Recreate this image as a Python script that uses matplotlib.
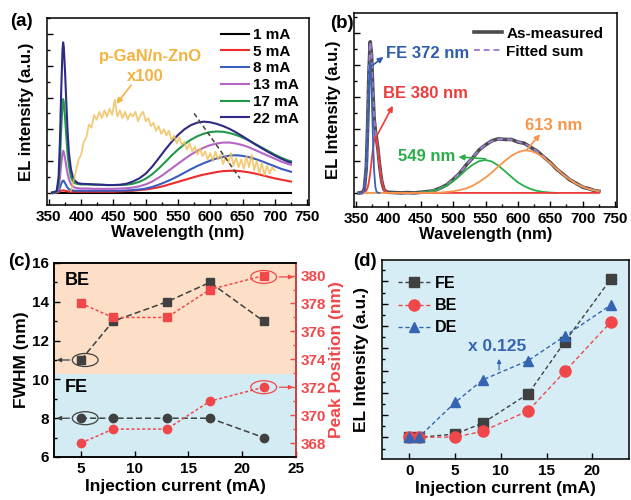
import numpy as np
import matplotlib
matplotlib.use("Agg")
import matplotlib.pyplot as plt
from matplotlib.patches import Ellipse
from matplotlib.ticker import MultipleLocator, NullFormatter

plt.rcParams['font.family'] = ['Liberation Sans', 'DejaVu Sans']
plt.rcParams['font.weight'] = 'bold'
plt.rcParams['axes.labelweight'] = 'bold'
plt.rcParams['axes.linewidth'] = 1.1

# ---------------- (a) EL spectra at different currents ----------------
wl_a = [355, 362, 365, 367, 369, 371, 372, 373, 375, 377, 379, 381, 384, 387, 390, 395,
        400, 410, 420, 430, 440, 450, 460, 470, 480, 490,
        500, 510, 520, 530, 540, 550, 560, 570, 580, 590,
        600, 610, 620, 630, 640, 650, 660, 670, 680, 690,
        700, 710, 720, 725]
wl_1mA = [355, 725]
el_1mA = [0, 0]
el_5mA = [0, 0, 0.02, 0.04, 0.06, 0.07, 0.07, 0.07, 0.06, 0.05, 0.04, 0.03, 0.03, 0.03, 0.03, 0.03,
          0.03, 0.03, 0.03, 0.03, 0.03, 0.03, 0.04, 0.05, 0.06, 0.08,
          0.10, 0.13, 0.17, 0.22, 0.28, 0.34, 0.40, 0.46, 0.52, 0.57,
          0.61, 0.65, 0.68, 0.69, 0.69, 0.67, 0.64, 0.60, 0.55, 0.50,
          0.45, 0.41, 0.37, 0.35]
el_8mA = [0, 0.01, 0.05, 0.15, 0.28, 0.36, 0.38, 0.37, 0.30, 0.22, 0.15, 0.11, 0.08, 0.07, 0.06, 0.06,
          0.06, 0.06, 0.06, 0.06, 0.06, 0.06, 0.06, 0.07, 0.08, 0.10,
          0.13, 0.18, 0.25, 0.33, 0.42, 0.52, 0.63, 0.74, 0.84, 0.93,
          1.01, 1.08, 1.13, 1.17, 1.18, 1.16, 1.12, 1.06, 0.99, 0.91,
          0.83, 0.75, 0.69, 0.66]
el_13mA = [0, 0.02, 0.12, 0.45, 0.90, 1.25, 1.32, 1.28, 1.08, 0.82, 0.58, 0.42, 0.27, 0.20, 0.16, 0.14,
           0.13, 0.13, 0.12, 0.12, 0.12, 0.12, 0.13, 0.14, 0.16, 0.20,
           0.26, 0.35, 0.47, 0.61, 0.76, 0.91, 1.06, 1.20, 1.32, 1.42,
           1.50, 1.55, 1.58, 1.58, 1.55, 1.50, 1.43, 1.34, 1.25, 1.16,
           1.07, 0.98, 0.91, 0.88]
el_17mA = [0, 0.03, 0.30, 1.00, 2.00, 2.80, 2.95, 2.85, 2.35, 1.75, 1.20, 0.85, 0.50, 0.36, 0.30, 0.27,
           0.26, 0.26, 0.25, 0.25, 0.24, 0.24, 0.24, 0.25, 0.28, 0.34,
           0.44, 0.58, 0.76, 0.96, 1.17, 1.36, 1.53, 1.67, 1.78, 1.86,
           1.91, 1.93, 1.92, 1.88, 1.82, 1.74, 1.64, 1.53, 1.42, 1.31,
           1.20, 1.10, 1.02, 0.99]
el_22mA = [0, 0.05, 0.50, 1.60, 3.20, 4.50, 4.74, 4.60, 3.80, 2.80, 1.90, 1.25, 0.75, 0.50, 0.38, 0.30,
           0.28, 0.27, 0.26, 0.25, 0.24, 0.24, 0.25, 0.28, 0.35, 0.45,
           0.60, 0.82, 1.08, 1.35, 1.60, 1.82, 2.00, 2.13, 2.21, 2.24,
           2.22, 2.17, 2.10, 2.01, 1.90, 1.78, 1.65, 1.52, 1.40, 1.28,
           1.17, 1.07, 0.98, 0.95]
labels_a = ['1 mA', '5 mA', '8 mA', '13 mA', '17 mA', '22 mA']
colors_a = ['#000000', '#EE2A2A', '#3A5DBF', '#B566C4', '#1E9A48', '#2E2A85']

# p-GaN/n-ZnO reference (x100)
wl_gan = np.arange(384, 701, 4)
el_gan = [0.05, 0.35, 0.70, 1.05, 1.20, 1.60, 1.75, 2.15, 2.05, 2.45,
          2.30, 2.55, 2.35, 2.60, 2.40, 2.65, 2.45, 2.93, 2.40, 2.60,
          2.35, 2.55, 2.30, 2.50, 2.40, 2.55, 2.25, 2.45, 2.55, 2.25,
          2.35, 2.10, 2.20, 1.95, 2.10, 1.85, 2.00, 1.80, 1.95, 1.65,
          1.80, 1.55, 1.75, 1.50, 1.60, 1.35, 1.55, 1.30, 1.45, 1.20,
          1.40, 1.15, 1.30, 1.05, 1.25, 1.00, 1.30, 1.05, 1.20, 0.90,
          1.15, 0.95, 1.25, 0.85, 1.10, 0.80, 1.05, 0.75, 1.15, 0.80,
          1.20, 0.70, 1.00, 0.60, 0.95, 0.55, 0.85, 0.60, 0.80, 0.70]
guide_wl = [575, 646]
guide_y = [2.5, 0.45]

# ---------------- (b) Gaussian deconvolution ----------------
wl_b = [355, 360, 363, 366, 368, 370, 372, 374, 376, 378, 380, 382, 384, 386, 388, 390, 393, 396,
        400, 410, 420, 430, 440, 450, 460, 470, 480, 490,
        500, 510, 520, 530, 540, 550, 560, 570, 580, 590,
        600, 610, 620, 630, 640, 650, 660, 670, 680, 690,
        700, 710, 720, 725]
measured = [0.00, 0.01, 0.12, 0.80, 2.06, 3.72, 4.72, 4.33, 3.24, 2.33, 1.95, 1.66, 1.36, 0.96, 0.62, 0.35, 0.12, 0.04,
            0.02, 0.01, 0.00, 0.01, 0.00, 0.02, 0.04, 0.07, 0.15, 0.25,
            0.42, 0.61, 0.87, 1.09, 1.34, 1.50, 1.63, 1.69, 1.67, 1.67,
            1.59, 1.55, 1.42, 1.30, 1.12, 0.95, 0.74, 0.58, 0.41, 0.30,
            0.18, 0.13, 0.06, 0.05]
fit_sum = [0.00, 0.00, 0.10, 0.77, 2.04, 3.71, 4.71, 4.34, 3.22, 2.34, 1.93, 1.67, 1.35, 0.97, 0.61, 0.34, 0.11, 0.03,
           0.00, 0.00, 0.00, 0.00, 0.00, 0.01, 0.03, 0.08, 0.14, 0.26,
           0.41, 0.62, 0.86, 1.10, 1.33, 1.51, 1.62, 1.68, 1.68, 1.66,
           1.60, 1.54, 1.43, 1.29, 1.13, 0.94, 0.75, 0.57, 0.42, 0.29,
           0.19, 0.12, 0.07, 0.05]
wl_fe = [355, 360, 363, 366, 368, 370, 372, 374, 376, 378, 380, 382, 384, 386]
fe_comp = [0, 0, 0.08, 0.70, 1.88, 3.37, 4.10, 3.37, 1.88, 0.70, 0.18, 0.03, 0.01, 0]
wl_be = [355, 360, 363, 366, 368, 370, 372, 374, 376, 378, 380, 382, 384, 386, 388, 390, 393, 396, 400, 725]
be_comp = [0, 0, 0.02, 0.07, 0.16, 0.34, 0.61, 0.97, 1.34, 1.64, 1.75, 1.64, 1.34, 0.97, 0.61, 0.34, 0.11, 0.03, 0, 0]
wl_g = [440, 450, 460, 470, 480, 490, 500, 510, 520, 530, 540, 550, 560, 570, 580, 590,
        600, 610, 620, 630, 640, 650, 660]
g_comp = [0, 0.01, 0.03, 0.07, 0.13, 0.23, 0.36, 0.53, 0.72, 0.88, 0.99, 1.03, 0.98, 0.85, 0.68, 0.50,
          0.33, 0.21, 0.12, 0.06, 0.03, 0.01, 0]
wl_o = [355, 450, 460, 470, 480, 490, 500, 510, 520, 530, 540, 550, 560, 570, 580, 590,
        600, 610, 620, 630, 640, 650, 660, 670, 680, 690, 700, 710, 720, 725]
o_comp = [0, 0, 0.00, 0.01, 0.01, 0.03, 0.05, 0.09, 0.14, 0.22, 0.34, 0.48, 0.64, 0.83, 1.00, 1.16,
          1.27, 1.33, 1.31, 1.23, 1.10, 0.93, 0.75, 0.57, 0.42, 0.29, 0.19, 0.12, 0.07, 0.05]

# ---------------- (c) FWHM and peak position ----------------
cur_c = [5, 8, 13, 17, 22]
be_fwhm = [11, 13, 14, 15, 13]
fe_fwhm = [8, 8, 8, 8, 7]
be_peak = [378, 377, 377, 379, 380]
fe_peak = [368, 369, 369, 371, 372]

# ---------------- (d) integrated intensity ----------------
cur_d = [0, 1, 5, 8, 13, 17, 22]
fe_int = [0, 0, 0.15, 0.64, 1.96, 4.30, 7.10]
be_int = [0, 0, 0.02, 0.27, 1.20, 2.96, 5.18]
de_int = [0, 0, 1.57, 2.58, 3.45, 4.55, 5.94]

red = '#F0484A'
grey = '#404040'
blue = '#3565B2'

fig = plt.figure(figsize=(6.31, 5.0), dpi=100)
ax_a = fig.add_axes([47/631, 1-205/500, 262/631, 187/500])
ax_b = fig.add_axes([354/631, 1-207/500, 263/631, 194/500])
ax_c = fig.add_axes([54/631, 1-457/500, 242/631, 194/500])
ax_d = fig.add_axes([382/631, 1-459/500, 247/631, 199/500])


def style(ax, fs=11):
    ax.tick_params(which='both', direction='in', width=1, labelsize=fs)
    ax.tick_params(which='major', length=4)
    ax.tick_params(which='minor', length=2)


# ---- (a)
ax_a.plot(wl_1mA, el_1mA, color=colors_a[0], lw=1.5, label=labels_a[0])
for ys, c, lab in zip([el_5mA, el_8mA, el_13mA, el_17mA, el_22mA], colors_a[1:], labels_a[1:]):
    ax_a.plot(wl_a, ys, color=c, lw=1.5, label=lab)
ax_a.plot(wl_gan, el_gan, color='#F0BE55', lw=1.3, alpha=0.8)
ax_a.plot(guide_wl, guide_y, color='#4A4030', lw=1.1, ls=(0, (3, 2)))
ax_a.text(507, 4.28, 'p-GaN/n-ZnO', color='#F4B23E', fontsize=12, ha='center', va='center')
ax_a.text(499, 3.65, 'x100', color='#F4B23E', fontsize=12, ha='center', va='center')
ax_a.annotate('', xy=(452, 2.73), xytext=(480, 3.46),
              arrowprops=dict(arrowstyle='-|>', color='#F4B23E', lw=1.2, mutation_scale=8))
ax_a.set_xlim(347, 753)
ax_a.set_ylim(-0.39, 5.51)
ax_a.xaxis.set_major_locator(MultipleLocator(50))
ax_a.xaxis.set_minor_locator(MultipleLocator(25))
ax_a.set_yticks([0, 1, 2, 3, 4, 5])
ax_a.yaxis.set_minor_locator(MultipleLocator(0.5))
ax_a.yaxis.set_major_formatter(NullFormatter())
style(ax_a)
ax_a.set_xlabel('Wavelength (nm)', fontsize=12, labelpad=1)
ax_a.set_ylabel('EL intensity (a.u.)', fontsize=12, labelpad=6)
ax_a.legend(loc='upper right', fontsize=11, frameon=False, handlelength=1.8,
            labelspacing=0.18, handletextpad=0.3, borderaxespad=0.25)

# ---- (b)
ax_b.plot(wl_b, measured, color='#4D4D4D', lw=2.6, label='As-measured', zorder=2)
ax_b.plot(wl_b, fit_sum, color='#A07ED6', lw=1.4, ls=(0, (3, 2)), label='Fitted sum', zorder=3)
ax_b.plot(wl_g, g_comp, color='#2AAE49', lw=1.3, zorder=4)
ax_b.plot(wl_be, be_comp, color='#EE3B3B', lw=1.3, zorder=4)
ax_b.plot(wl_o, o_comp, color='#F7954A', lw=1.3, zorder=5)
ax_b.plot(wl_fe, fe_comp, color='#3A63B5', lw=1.3, zorder=5)
arr = dict(arrowstyle='-|>', lw=1.2, mutation_scale=8)
ax_b.text(397, 4.35, 'FE 372 nm', color='#2F5DA9', fontsize=12, va='center')
ax_b.annotate('', xy=(396, 4.3), xytext=(370, 3.9), arrowprops=dict(arr, color='#2F5DA9'))
ax_b.text(392, 3.12, 'BE 380 nm', color='#EE3B3B', fontsize=12, va='center')
ax_b.annotate('', xy=(409, 2.8), xytext=(379, 1.66), arrowprops=dict(arr, color='#EE3B3B'))
ax_b.text(503, 1.13, '549 nm', color='#2AAE49', fontsize=12, va='center', ha='right')
ax_b.annotate('', xy=(504, 1.13), xytext=(554, 1.06), arrowprops=dict(arr, color='#2AAE49'))
ax_b.text(611, 2.12, '613 nm', color='#F7954A', fontsize=12, va='center')
ax_b.annotate('', xy=(637, 1.9), xytext=(611, 1.28), arrowprops=dict(arr, color='#F7954A'))
ax_b.set_xlim(347, 753)
ax_b.set_ylim(-0.44, 5.62)
ax_b.xaxis.set_major_locator(MultipleLocator(50))
ax_b.xaxis.set_minor_locator(MultipleLocator(25))
ax_b.set_yticks([0, 1, 2, 3, 4, 5])
ax_b.yaxis.set_minor_locator(MultipleLocator(0.5))
ax_b.yaxis.set_major_formatter(NullFormatter())
style(ax_b)
ax_b.set_xlabel('Wavelength (nm)', fontsize=12, labelpad=1)
ax_b.set_ylabel('EL Intensity (a.u.)', fontsize=12, labelpad=6)
ax_b.legend(loc='upper right', fontsize=11, frameon=False, handlelength=1.8,
            labelspacing=0.25, handletextpad=0.3, borderaxespad=0.5)

# ---- (c)
ax_c.axhspan(10.28, 16, color='#FCDFC6', zorder=0, lw=0)
ax_c.axhspan(6, 10.28, color='#D3ECF4', zorder=0, lw=0)
ax_c.plot(cur_c, be_fwhm, color=grey, ls=(0, (4, 2)), lw=1.1, marker='s', ms=6)
ax_c.plot(cur_c, fe_fwhm, color=grey, ls=(0, (4, 2)), lw=1.1, marker='o', ms=6)
ax_c.set_xlim(2.5, 25)
ax_c.set_ylim(6, 16)
ax_c.set_xticks([5, 10, 15, 20, 25])
ax_c.yaxis.set_minor_locator(MultipleLocator(1))
style(ax_c, 11)
ax_c.set_xlabel('Injection current (mA)', fontsize=12.5, labelpad=2)
ax_c.set_ylabel('FWHM (nm)', fontsize=12.5, labelpad=2)
ax_c.text(3.5, 15.1, 'BE', fontsize=13, va='center')
ax_c.text(3.5, 9.56, 'FE', fontsize=13, va='center')
for yv in [11, 8]:
    ax_c.add_patch(Ellipse((5.4, yv), 2.4, 0.67, fill=False, ec=grey, lw=0.9))
    ax_c.annotate('', xy=(2.5, yv), xytext=(4.2, yv),
                  arrowprops=dict(arrowstyle='-|>', color=grey, lw=0.9, mutation_scale=6))

ax_c2 = ax_c.twinx()
ax_c2.plot(cur_c, be_peak, color=red, ls=(0, (2, 1.5)), lw=1.1, marker='s', ms=6)
ax_c2.plot(cur_c, fe_peak, color=red, ls=(0, (2, 1.5)), lw=1.1, marker='o', ms=6)
ax_c2.set_ylim(367, 380.9)
ax_c2.set_yticks([368, 370, 372, 374, 376, 378, 380])
ax_c2.yaxis.set_minor_locator(MultipleLocator(1))
style(ax_c2, 11)
ax_c2.tick_params(axis='y', which='both', colors=red)
ax_c2.spines['right'].set_color(red)
ax_c2.set_ylabel('Peak Position (nm)', fontsize=12.5, color=red, labelpad=2)
for yv in [379.9, 372.0]:
    ax_c2.add_patch(Ellipse((22.0, yv), 2.4, 0.93, fill=False, ec=red, lw=0.9))
    ax_c2.annotate('', xy=(25, yv), xytext=(23.2, yv),
                   arrowprops=dict(arrowstyle='-|>', color=red, lw=0.9, mutation_scale=6))

# ---- (d)
ax_d.set_facecolor('#D6EDF5')
ax_d.plot(cur_d, fe_int, color=grey, ls=(0, (3, 2)), lw=1.0, marker='s', ms=7, label='FE')
ax_d.plot(cur_d, be_int, color=red, ls=(0, (3, 2)), lw=1.0, marker='o', ms=8, label='BE')
ax_d.plot(cur_d, de_int, color=blue, ls=(0, (3, 2)), lw=1.0, marker='^', ms=7, label='DE')
ax_d.text(6.4, 4.07, 'x 0.125', color=blue, fontsize=12.5, va='center')
ax_d.annotate('', xy=(9.8, 3.65), xytext=(9.8, 2.9),
              arrowprops=dict(arrowstyle='-|>', color=blue, lw=0.9, mutation_scale=6))
ax_d.set_xlim(-3, 24)
ax_d.set_ylim(-0.97, 7.96)
ax_d.set_xticks([0, 5, 10, 15, 20])
ax_d.set_yticks([0, 1, 2, 3, 4, 5, 6, 7])
ax_d.yaxis.set_minor_locator(MultipleLocator(0.5))
ax_d.yaxis.set_major_formatter(NullFormatter())
style(ax_d, 11)
ax_d.set_xlabel('Injection current (mA)', fontsize=12.5, labelpad=2)
ax_d.set_ylabel('EL Intensity (a.u.)', fontsize=12.5, labelpad=6)
ax_d.legend(loc='upper left', fontsize=11.5, frameon=False, handlelength=2.0,
            labelspacing=0.45, handletextpad=0.3, borderaxespad=0.6)

# panel letters
fig.text(10/631, 1-22/500, '(a)', fontsize=13.5, va='center')
fig.text(330/631, 1-23/500, '(b)', fontsize=13.5, va='center')
fig.text(8/631, 1-261/500, '(c)', fontsize=13.5, va='center')
fig.text(353/631, 1-261/500, '(d)', fontsize=13.5, va='center')

fig.savefig('out.png', dpi=100)
